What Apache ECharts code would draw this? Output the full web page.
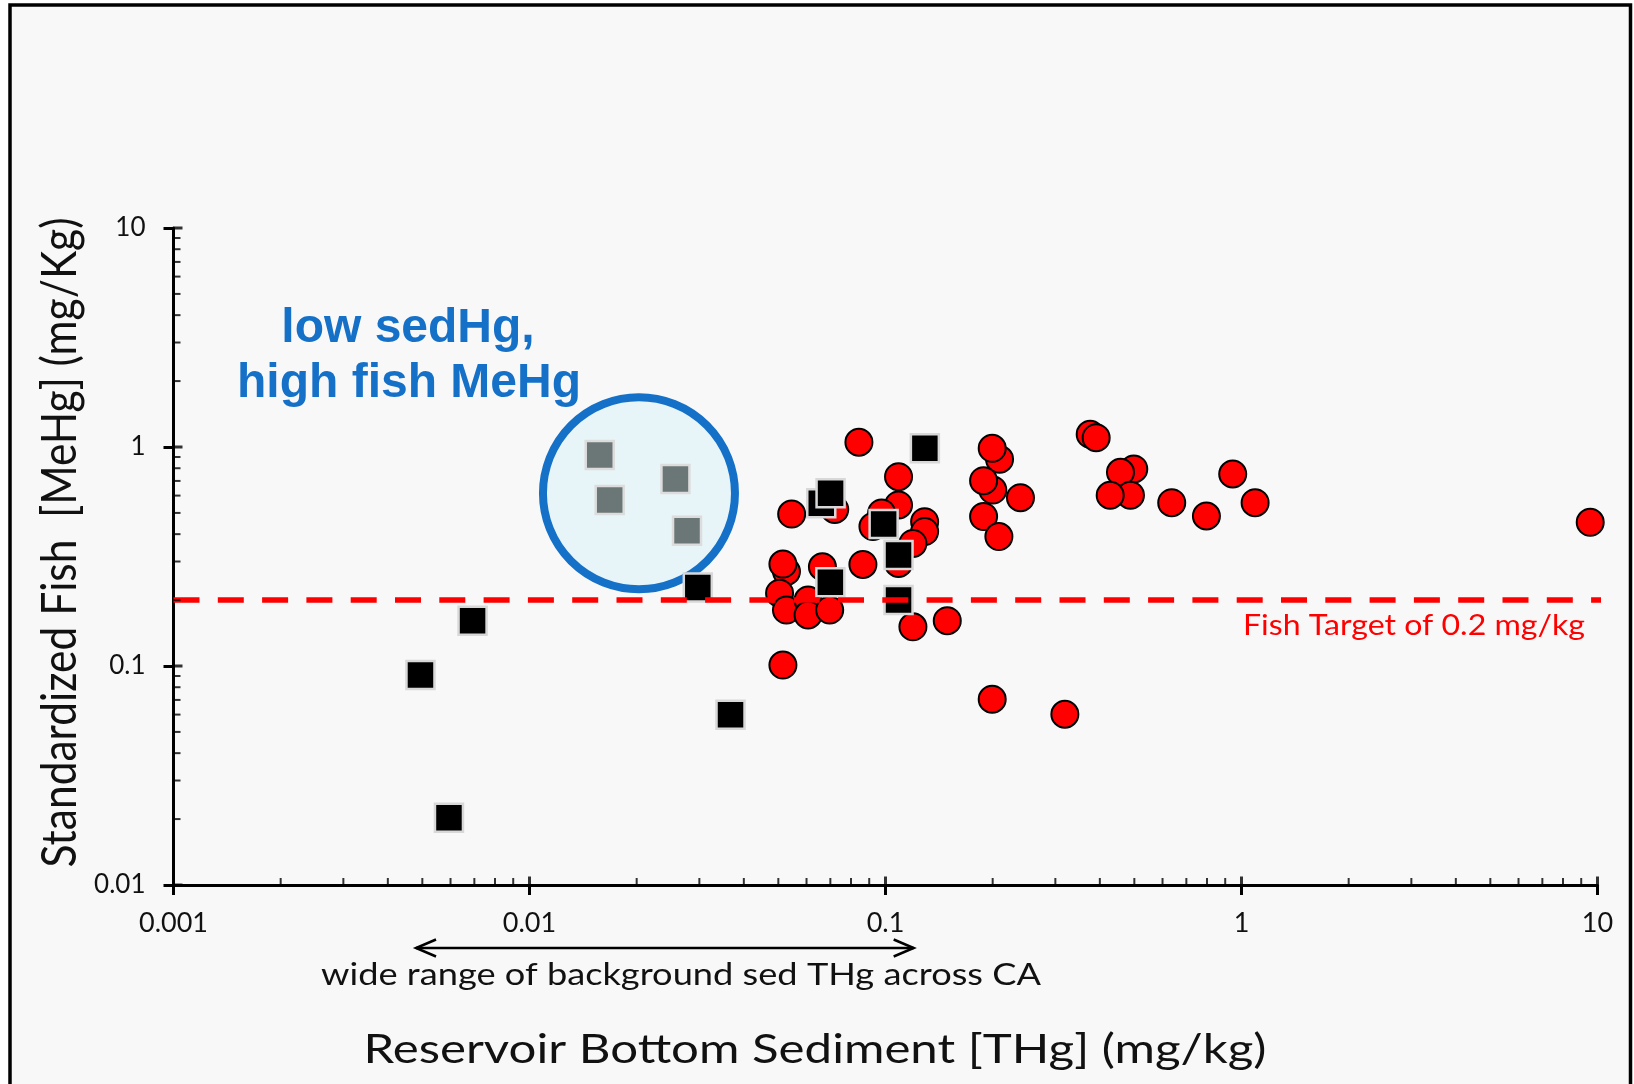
<!DOCTYPE html>
<html>
<head>
<meta charset="utf-8">
<title>Reservoir sediment THg vs standardized fish MeHg</title>
<script src="https://cdn.jsdelivr.net/npm/echarts@6/dist/echarts.min.js"></script>
<style>
  html, body { margin: 0; padding: 0; background: #ffffff; }
  #chart { width: 1634px; height: 1084px; }
</style>
</head>
<body>
<div id="chart"></div>
<script>
// ---- Axis ticks (log scale, base 10) ----
const xTickLabels = ['0.001', '0.01', '0.1', '1', '10'];
const yTickLabels = ['0.01', '0.1', '1', '10'];
const xMajorTicks = [0.001, 0.01, 0.1, 1, 10];
const yMajorTicks = [0.01, 0.1, 1, 10];
const xMinorTicks = [
  0.002, 0.003, 0.004, 0.005, 0.006, 0.007, 0.008, 0.009,
  0.02, 0.03, 0.04, 0.05, 0.06, 0.07, 0.08, 0.09,
  0.2, 0.3, 0.4, 0.5, 0.6, 0.7, 0.8, 0.9,
  2, 3, 4, 5, 6, 7, 8, 9
];
const yMinorTicks = [
  0.02, 0.03, 0.04, 0.05, 0.06, 0.07, 0.08, 0.09,
  0.2, 0.3, 0.4, 0.5, 0.6, 0.7, 0.8, 0.9,
  2, 3, 4, 5, 6, 7, 8, 9
];

// ---- Reservoirs: sediment THg (mg/kg) and standardized fish MeHg (mg/kg) ----
const redSedTHg = [
  0.0842, 0.0545, 0.0720, 0.1088, 0.1088, 0.0975, 0.0922, 0.1288, 0.1288, 0.1194,
  0.1088, 0.0864, 0.0527, 0.0515, 0.0665, 0.0504, 0.0527, 0.0606, 0.0606, 0.0697,
  0.1194, 0.1491, 0.0515, 0.2091, 0.1994, 0.2002, 0.1886, 0.2394, 0.1886, 0.2082,
  0.1994, 0.3190, 0.3758, 0.3906, 0.4982, 0.4571, 0.4876, 0.4277, 0.6368, 0.7970,
  0.9447, 1.092, 9.54
];
const redFishMeHg = [
  1.051, 0.494, 0.519, 0.732, 0.544, 0.500, 0.433, 0.456, 0.411, 0.363,
  0.294, 0.291, 0.270, 0.292, 0.284, 0.215, 0.180, 0.200, 0.171, 0.180,
  0.151, 0.161, 0.101, 0.879, 0.986, 0.636, 0.702, 0.587, 0.481, 0.390,
  0.0705, 0.0602, 1.143, 1.103, 0.794, 0.767, 0.602, 0.602, 0.557, 0.484,
  0.753, 0.557, 0.453
];

const blackSedTHg = [0.0297, 0.00692, 0.00494, 0.0367, 0.00594, 0.0660, 0.0701, 0.129, 0.0988, 0.1088, 0.0700, 0.1088];
const blackFishMeHg = [0.228, 0.161, 0.0910, 0.0599, 0.0203, 0.553, 0.615, 0.986, 0.445, 0.321, 0.241, 0.200];

// low sediment Hg but high fish MeHg
const graySedTHg = [0.01575, 0.0168, 0.0257, 0.0277];
const grayFishMeHg = [0.919, 0.573, 0.714, 0.415];

// Reference values for annotations
const fishTarget = 0.2;
const targetLineSpan = [0.001, 11.1];
const highlightCenter = [0.0203, 0.615];
const backgroundRange = [0.0048, 0.12];

// ---- helpers ----
function pairs(xs, ys) { return xs.map((x, i) => [x, ys[i]]); }
const INK = '#111111';
const BLUE = '#1570C8';
const RED = '#FF0000';

const mctx = document.createElement('canvas').getContext('2d');
function textWidth(text, font) { mctx.font = font; return mctx.measureText(text).width; }

const chart = echarts.init(document.getElementById('chart'), null, { renderer: 'canvas', width: 1634, height: 1084 });

const option = {
  animation: false,
  backgroundColor: '#ffffff',
  grid: { left: 173.5, right: 36.5, top: 228, bottom: 199, containLabel: false, outerBoundsMode: 'none' },
  xAxis: {
    type: 'log', logBase: 10, min: 0.001, max: 10,
    axisLine: { show: true, lineStyle: { color: '#000', width: 3 } },
    axisTick: { show: true, inside: false, length: 10, lineStyle: { color: '#000', width: 3 } },
    axisLabel: {
      fontFamily: 'Lato', fontSize: 27, color: INK, margin: 25,
      formatter: v => xTickLabels[Math.round(Math.log10(v)) + 3]
    },
    splitLine: { show: false }
  },
  yAxis: {
    type: 'log', logBase: 10, min: 0.01, max: 10,
    axisLine: { show: true, lineStyle: { color: '#000', width: 3 } },
    axisTick: { show: true, inside: false, length: 10, lineStyle: { color: '#000', width: 3 } },
    axisLabel: {
      fontFamily: 'Lato', fontSize: 26, color: INK, margin: 28,
      formatter: v => yTickLabels[Math.round(Math.log10(v)) + 2]
    },
    splitLine: { show: false }
  },
  series: [
    // inner tick marks along the axes
    {
      type: 'scatter', silent: true, clip: false, z: 6,
      data: xMinorTicks.map(v => [v, 0.01]),
      symbol: 'rect', symbolSize: [2, 7], symbolOffset: [0, -3.5],
      itemStyle: { color: '#000' }
    },
    {
      type: 'scatter', silent: true, clip: false, z: 6,
      data: xMajorTicks.map(v => [v, 0.01]),
      symbol: 'rect', symbolSize: [3, 8.5], symbolOffset: [0, -4.25],
      itemStyle: { color: '#000' }
    },
    {
      type: 'scatter', silent: true, clip: false, z: 6,
      data: yMinorTicks.map(v => [0.001, v]),
      symbol: 'rect', symbolSize: [7, 2], symbolOffset: [3.5, 0],
      itemStyle: { color: '#000' }
    },
    {
      type: 'scatter', silent: true, clip: false, z: 6,
      data: yMajorTicks.map(v => [0.001, v]),
      symbol: 'rect', symbolSize: [9, 3], symbolOffset: [4.5, 0],
      itemStyle: { color: '#000' }
    },
    // reservoirs (circles)
    {
      name: 'reservoirs', type: 'scatter', z: 2,
      data: pairs(redSedTHg, redFishMeHg),
      symbol: 'circle', symbolSize: 27,
      itemStyle: { color: RED, borderColor: '#000', borderWidth: 2, opacity: 1 }
    },
    // highlighted region
    {
      type: 'scatter', silent: true, z: 3,
      data: [highlightCenter],
      symbol: 'circle', symbolSize: 192,
      itemStyle: { color: '#E8F5F8', borderColor: BLUE, borderWidth: 8, opacity: 1 }
    },
    // reservoirs (squares)
    {
      name: 'squares', type: 'scatter', z: 4,
      data: pairs(blackSedTHg, blackFishMeHg),
      symbol: 'rect', symbolSize: 28,
      itemStyle: { color: '#000', borderColor: '#D8D8D8', borderWidth: 2.5, opacity: 1 }
    },
    {
      name: 'low sedHg', type: 'scatter', z: 4,
      data: pairs(graySedTHg, grayFishMeHg),
      symbol: 'rect', symbolSize: 28,
      itemStyle: { color: '#6B7676', borderColor: '#DCDCDC', borderWidth: 2.5, opacity: 1 }
    },
    // fish target line
    {
      type: 'line', silent: true, clip: false, z: 5,
      data: [[targetLineSpan[0], fishTarget], [targetLineSpan[1], fishTarget]],
      symbol: 'none',
      lineStyle: { color: RED, width: 5.5, type: [26, 18.3], cap: 'butt' }
    }
  ]
};

chart.setOption(option);

// ---- text and annotation layer ----
const titleFont = '40px Lato';
const xTitle = 'Reservoir Bottom Sediment [THg] (mg/kg)';
const yTitle = 'Standardized Fish  [MeHg] (mg/Kg)';
const rangeText = 'wide range of background sed THg across CA';
const rangeFont = '30px Lato';
const targetText = 'Fish Target of ' + fishTarget + ' mg/kg';
const targetFont = '28px Lato';
const noteFont = 'bold 48px "Liberation Sans", Arial, sans-serif';
const noteLines = ['low sedHg,', 'high fish MeHg'];

const stretch = 903 / textWidth(xTitle, titleFont);

function label(text, font, fill, x, y, opts) {
  return Object.assign({
    type: 'text', x: x, y: y, z: 10, silent: true,
    style: {
      text: text, font: font, fill: fill,
      align: 'center', verticalAlign: 'middle',
      textAlign: 'center', textVerticalAlign: 'middle'
    }
  }, opts || {});
}

const pL = chart.convertToPixel({ gridIndex: 0 }, [backgroundRange[0], 0.01]);
const pR = chart.convertToPixel({ gridIndex: 0 }, [backgroundRange[1], 0.01]);
const arrowY = 948;
const head = 20, half = 8.5;

chart.setOption({
  graphic: {
    elements: [
      {
        type: 'rect', z: -10, silent: true,
        shape: { x: 10, y: 5, width: 1620.5, height: 1100 },
        style: { fill: '#F8F8F8', stroke: '#000', lineWidth: 3.5 }
      },
      label(xTitle, titleFont, INK, 815, 1050, { scaleX: stretch }),
      label(yTitle, '37px Lato', INK, 60, 542.5, {
        rotation: Math.PI / 2,
        scaleX: 650 / textWidth(yTitle, '37px Lato'),
        scaleY: 903 / textWidth(xTitle, '37px Lato')
      }),
      label(rangeText, rangeFont, INK, 681, 975, { scaleX: 720 / textWidth(rangeText, rangeFont) }),
      label(targetText, targetFont, RED, 1414, 626, { scaleX: 342 / textWidth(targetText, targetFont) }),
      label(noteLines[0], noteFont, BLUE, 408, 329),
      label(noteLines[1], noteFont, BLUE, 409, 384),
      {
        type: 'line', z: 10, silent: true,
        shape: { x1: pL[0], y1: arrowY, x2: pR[0], y2: arrowY },
        style: { stroke: '#000', lineWidth: 2.5 }
      },
      {
        type: 'polyline', z: 10, silent: true,
        shape: { points: [[pL[0] + head, arrowY - half], [pL[0], arrowY], [pL[0] + head, arrowY + half]] },
        style: { stroke: '#000', lineWidth: 2.5, fill: null }
      },
      {
        type: 'polyline', z: 10, silent: true,
        shape: { points: [[pR[0] - head, arrowY - half], [pR[0], arrowY], [pR[0] - head, arrowY + half]] },
        style: { stroke: '#000', lineWidth: 2.5, fill: null }
      }
    ]
  }
});
</script>
</body>
</html>
